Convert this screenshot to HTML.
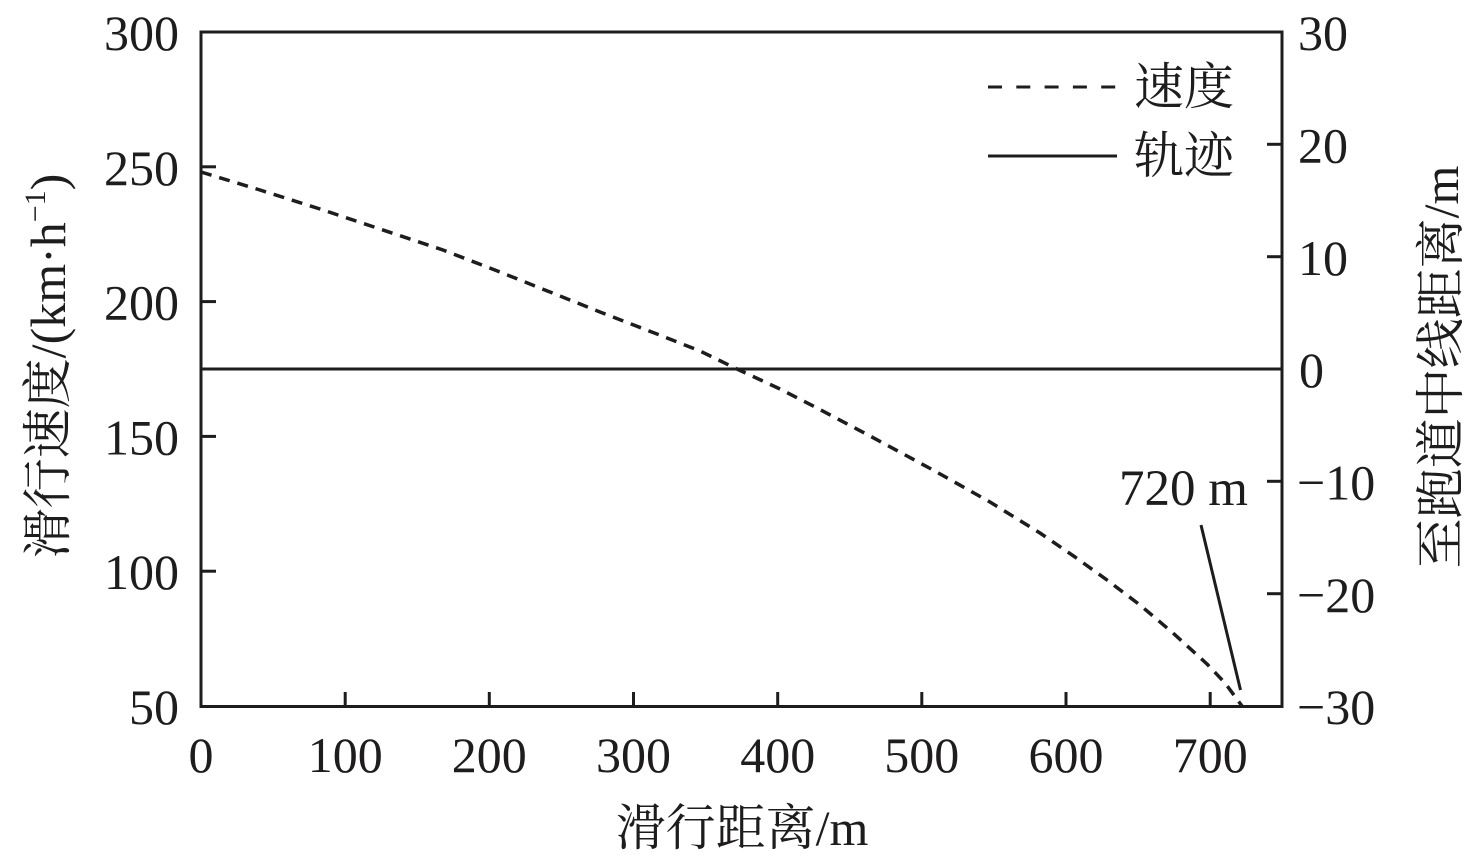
<!DOCTYPE html>
<html>
<head>
<meta charset="utf-8">
<style>
  html, body { margin: 0; padding: 0; background: #ffffff; }
  svg { display: block; }
  text { font-family: "Liberation Serif", "Times New Roman", "Tinos", "Nimbus Roman", "FreeSerif", "Noto Serif CJK SC", serif; fill: #1e1c1d; }
</style>
</head>
<body>
<svg width="1476" height="866" viewBox="0 0 1476 866" xmlns="http://www.w3.org/2000/svg">
  <rect x="0" y="0" width="1476" height="866" fill="#ffffff"/>

  <!-- plot frame -->
  <rect x="201" y="32" width="1081" height="674.5" fill="none" stroke="#1e1c1d" stroke-width="3"/>

  <g stroke="#1e1c1d" stroke-width="3">
    <!-- left ticks -->
    <line x1="201" y1="166.8" x2="216" y2="166.8"/>
    <line x1="201" y1="301.6" x2="216" y2="301.6"/>
    <line x1="201" y1="436.4" x2="216" y2="436.4"/>
    <line x1="201" y1="571.2" x2="216" y2="571.2"/>
    <!-- right ticks -->
    <line x1="1267" y1="144.3" x2="1282" y2="144.3"/>
    <line x1="1267" y1="256.7" x2="1282" y2="256.7"/>
    <line x1="1267" y1="481.3" x2="1282" y2="481.3"/>
    <line x1="1267" y1="593.7" x2="1282" y2="593.7"/>
    <!-- bottom ticks -->
    <line x1="345.2" y1="706" x2="345.2" y2="692"/>
    <line x1="489.3" y1="706" x2="489.3" y2="692"/>
    <line x1="633.5" y1="706" x2="633.5" y2="692"/>
    <line x1="777.7" y1="706" x2="777.7" y2="692"/>
    <line x1="921.8" y1="706" x2="921.8" y2="692"/>
    <line x1="1066" y1="706" x2="1066" y2="692"/>
    <line x1="1210.2" y1="706" x2="1210.2" y2="692"/>
  </g>

  <!-- trajectory (solid) line at 0 -->
  <line x1="201" y1="369" x2="1282" y2="369" stroke="#1e1c1d" stroke-width="3"/>

  <!-- speed (dashed) curve -->
  <polyline fill="none" stroke="#1e1c1d" stroke-width="3.5" stroke-dasharray="11 8" stroke-linejoin="round"
    points="201,172 260,190 320,209 380,229 443,250 500,272 550,292 600,312 657,334 700,351 737,369 780,389 817,408 870,436 933,470 990,502 1040,533 1075,557 1107,580 1140,605 1173,633 1207,664 1225,683 1242,706"/>

  <!-- annotation -->
  <line x1="1201" y1="525" x2="1240.5" y2="690" stroke="#1e1c1d" stroke-width="3"/>
  <text x="1119" y="505" font-size="51">720 m</text>

  <!-- legend -->
  <line x1="988" y1="87" x2="1117" y2="87" stroke="#1e1c1d" stroke-width="3" stroke-dasharray="14 14.3"/>
  <line x1="988" y1="156" x2="1117" y2="156" stroke="#1e1c1d" stroke-width="3"/>
  <text x="1134" y="104" font-size="50">速度</text>
  <text x="1134" y="173" font-size="50">轨迹</text>

  <!-- left tick labels -->
  <g font-size="50" text-anchor="end">
    <text x="179" y="50">300</text>
    <text x="179" y="185">250</text>
    <text x="179" y="319.5">200</text>
    <text x="179" y="454.5">150</text>
    <text x="179" y="589">100</text>
    <text x="179" y="724">50</text>
  </g>

  <!-- right tick labels -->
  <g font-size="50" text-anchor="start">
    <text x="1298" y="50">30</text>
    <text x="1298" y="162.5">20</text>
    <text x="1298" y="275">10</text>
    <text x="1299" y="387">0</text>
    <text x="1297" y="499.5">−10</text>
    <text x="1297" y="612">−20</text>
    <text x="1297" y="724">−30</text>
  </g>

  <!-- bottom tick labels -->
  <g font-size="50" text-anchor="middle">
    <text x="201" y="772">0</text>
    <text x="345.2" y="772">100</text>
    <text x="489.3" y="772">200</text>
    <text x="633.5" y="772">300</text>
    <text x="777.7" y="772">400</text>
    <text x="921.8" y="772">500</text>
    <text x="1066" y="772">600</text>
    <text x="1210.2" y="772">700</text>
  </g>

  <!-- axis titles -->
  <text x="742" y="845" font-size="50" text-anchor="middle">滑行距离/m</text>
  <text transform="translate(65,366) rotate(-90)" font-size="50" text-anchor="middle">滑行速度/(km·h<tspan font-size="30" dy="-20">−1</tspan><tspan dy="20">)</tspan></text>
  <text transform="translate(1458,367) rotate(-90)" font-size="50" text-anchor="middle">至跑道中线距离/m</text>
</svg>
</body>
</html>
